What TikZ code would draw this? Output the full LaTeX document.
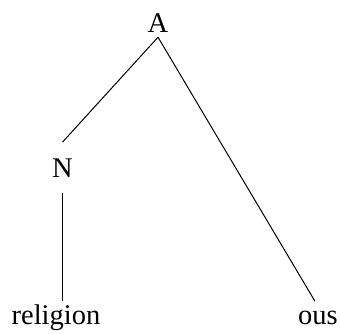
\documentclass[tikz,border=0pt]{standalone}
\usepackage{fontspec}
\setmainfont{Liberation Serif}
\usetikzlibrary{calc, positioning}

\begin{document}
\begin{tikzpicture}[x=1pt,y=1pt]
\tikzset{
  cat/.style={font=\fontsize{28.5}{34}\selectfont, inner xsep=0pt, inner ysep=5pt},
  leaf/.style={font=\fontsize{28.5}{34}\selectfont, anchor=base, text height=21pt, inner sep=1.5pt},
  branch/.style={line width=1pt, black}
}
\useasboundingbox (0,0) rectangle (340,333);

\node[cat, anchor=base] (A) at (158,301) {A};
\node[cat, anchor=base, inner ysep=16pt] (N) at (62.5,156) {N};
\node[leaf] (religion) at (56,9) {religion};
\node[leaf] (ous) at (318,9) {ous};

\draw[branch] (A.south) -- (N.north);
\draw[branch] (N.south) -- (N.south |- religion.north);
\draw[branch] (A.south) -- ([xshift=-3pt]ous.north);
\end{tikzpicture}
\end{document}
